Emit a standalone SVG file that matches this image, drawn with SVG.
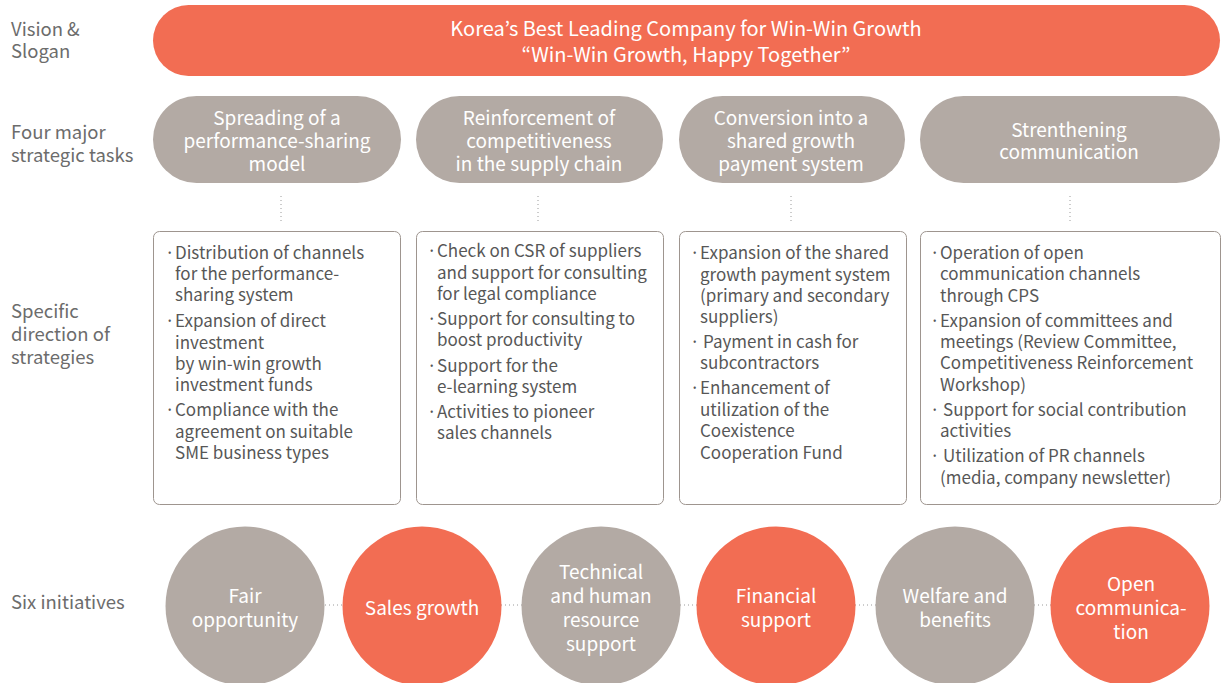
<svg xmlns="http://www.w3.org/2000/svg" width="1228" height="683" viewBox="0 0 1228 683">
<style>
text{font-family:"Noto Sans CJK KR","Noto Sans CJK SC","Source Sans Pro","Liberation Sans",sans-serif}
.lbl{font-size:18.5px;fill:#6c6c6c}
.w{fill:#fff;font-size:19px;text-anchor:middle}
.ban{fill:#fff;font-size:20px;text-anchor:middle}
.t{font-size:17px;fill:#575757}
.or{fill:#F26D53}
.gr{fill:#B3AAA4}
.box{fill:#fff;stroke:#9e958f;stroke-width:1}
.dot{stroke:#9a9a9a;stroke-width:1;stroke-dasharray:1 3;fill:none}
</style>
<g id="labels">
<text class="lbl" x="11" y="36">Vision &amp;<tspan x="11" dy="22">Slogan</tspan></text>
<text class="lbl" x="11" y="139">Four major<tspan x="11" dy="23">strategic tasks</tspan></text>
<text class="lbl" x="11" y="318">Specific<tspan x="11" dy="23">direction of</tspan><tspan x="11" dy="23">strategies</tspan></text>
<text class="lbl" x="11" y="609">Six initiatives</text>
</g>
<g id="connectors">
<line class="dot" x1="281" y1="196" x2="281" y2="222"/>
<line class="dot" x1="538" y1="196" x2="538" y2="222"/>
<line class="dot" x1="791" y1="196" x2="791" y2="222"/>
<line class="dot" x1="1070" y1="196" x2="1070" y2="222"/>
<line class="dot" x1="325" y1="605" x2="343" y2="605"/>
<line class="dot" x1="501" y1="605" x2="522" y2="605"/>
<line class="dot" x1="680" y1="605" x2="697" y2="605"/>
<line class="dot" x1="855" y1="605" x2="876" y2="605"/>
<line class="dot" x1="1034" y1="605" x2="1051" y2="605"/>
</g>
<g id="vision">
<rect class="or" x="153" y="5" width="1067" height="71" rx="35.5"/>
<text class="ban" x="686" y="36">Korea’s Best Leading Company for Win-Win Growth<tspan x="686" dy="26">“Win-Win Growth, Happy Together”</tspan></text>
</g>
<g id="task1">
<rect class="gr" x="153" y="96" width="248" height="87" rx="43.5"/>
<text class="w" x="277" y="125">Spreading of a<tspan x="277" dy="23">performance-sharing</tspan><tspan x="277" dy="23">model</tspan></text>
</g>
<g id="task2">
<rect class="gr" x="416" y="96" width="247" height="87" rx="43.5"/>
<text class="w" x="539" y="125">Reinforcement of<tspan x="539" dy="23">competitiveness</tspan><tspan x="539" dy="23">in the supply chain</tspan></text>
</g>
<g id="task3">
<rect class="gr" x="679" y="96" width="226" height="87" rx="43.5"/>
<text class="w" x="791" y="125">Conversion into a<tspan x="791" dy="23">shared growth</tspan><tspan x="791" dy="23">payment system</tspan></text>
</g>
<g id="task4">
<rect class="gr" x="920" y="96" width="300" height="87" rx="43.5"/>
<text class="w" x="1069" y="137">Strenthening<tspan x="1069" dy="22">communication</tspan></text>
</g>
<g id="dir1">
<rect class="box" x="153.5" y="231.5" width="247" height="273" rx="6"/>
<text class="t" x="165" y="259">·</text>
<text class="t" x="175" y="259">Distribution of channels<tspan x="175" dy="21">for the performance-</tspan><tspan x="175" dy="21">sharing system</tspan></text>
<text class="t" x="165" y="327">·</text>
<text class="t" x="175" y="327">Expansion of direct<tspan x="175" dy="22">investment</tspan><tspan x="175" dy="21">by win-win growth</tspan><tspan x="175" dy="21">investment funds</tspan></text>
<text class="t" x="165" y="416">·</text>
<text class="t" x="175" y="416">Compliance with the<tspan x="175" dy="22">agreement on suitable</tspan><tspan x="175" dy="21">SME business types</tspan></text>
</g>
<g id="dir2">
<rect class="box" x="416.5" y="231.5" width="247" height="273" rx="6"/>
<text class="t" x="427" y="257">·</text>
<text class="t" x="437" y="257">Check on CSR of suppliers<tspan x="437" dy="22">and support for consulting</tspan><tspan x="437" dy="21">for legal compliance</tspan></text>
<text class="t" x="427" y="325">·</text>
<text class="t" x="437" y="325">Support for consulting to<tspan x="437" dy="21">boost productivity</tspan></text>
<text class="t" x="427" y="372">·</text>
<text class="t" x="437" y="372">Support for the<tspan x="437" dy="21">e-learning system</tspan></text>
<text class="t" x="427" y="418">·</text>
<text class="t" x="437" y="418">Activities to pioneer<tspan x="437" dy="21">sales channels</tspan></text>
</g>
<g id="dir3">
<rect class="box" x="679.5" y="231.5" width="227" height="273" rx="6"/>
<text class="t" x="690" y="259">·</text>
<text class="t" x="700" y="259">Expansion of the shared<tspan x="700" dy="22">growth payment system</tspan><tspan x="700" dy="21">(primary and secondary</tspan><tspan x="700" dy="21">suppliers)</tspan></text>
<text class="t" x="690" y="348">·</text>
<text class="t" x="703" y="348">Payment in cash for<tspan x="700" dy="21">subcontractors</tspan></text>
<text class="t" x="690" y="394">·</text>
<text class="t" x="700" y="394">Enhancement of<tspan x="700" dy="22">utilization of the</tspan><tspan x="700" dy="21">Coexistence</tspan><tspan x="700" dy="22">Cooperation Fund</tspan></text>
</g>
<g id="dir4">
<rect class="box" x="920.5" y="231.5" width="300" height="273" rx="6"/>
<text class="t" x="930" y="259">·</text>
<text class="t" x="940" y="259">Operation of open<tspan x="940" dy="21">communication channels</tspan><tspan x="940" dy="22">through CPS</tspan></text>
<text class="t" x="930" y="327">·</text>
<text class="t" x="940" y="327">Expansion of committees and<tspan x="940" dy="21">meetings (Review Committee,</tspan><tspan x="940" dy="21">Competitiveness Reinforcement</tspan><tspan x="940" dy="22">Workshop)</tspan></text>
<text class="t" x="930" y="416">·</text>
<text class="t" x="943" y="416">Support for social contribution<tspan x="940" dy="21">activities</tspan></text>
<text class="t" x="930" y="462">·</text>
<text class="t" x="943" y="462">Utilization of PR channels<tspan x="940" dy="22">(media, company newsletter)</tspan></text>
</g>
<g id="init1">
<circle class="gr" cx="245" cy="606" r="79.5"/>
<text class="w" x="245" y="603">Fair<tspan x="245" dy="24">opportunity</tspan></text>
</g>
<g id="init2">
<circle class="or" cx="422" cy="606" r="79.5"/>
<text class="w" x="422" y="615">Sales growth</text>
</g>
<g id="init3">
<circle class="gr" cx="601" cy="606" r="79.5"/>
<text class="w" x="601" y="579">Technical<tspan x="601" dy="24">and human</tspan><tspan x="601" dy="24">resource</tspan><tspan x="601" dy="24">support</tspan></text>
</g>
<g id="init4">
<circle class="or" cx="776" cy="606" r="79.5"/>
<text class="w" x="776" y="603">Financial<tspan x="776" dy="24">support</tspan></text>
</g>
<g id="init5">
<circle class="gr" cx="955" cy="606" r="79.5"/>
<text class="w" x="955" y="603">Welfare and<tspan x="955" dy="24">benefits</tspan></text>
</g>
<g id="init6">
<circle class="or" cx="1130" cy="606" r="79.5"/>
<text class="w" x="1131" y="591">Open<tspan x="1131" dy="24">communica-</tspan><tspan x="1131" dy="24">tion</tspan></text>
</g>
</svg>
